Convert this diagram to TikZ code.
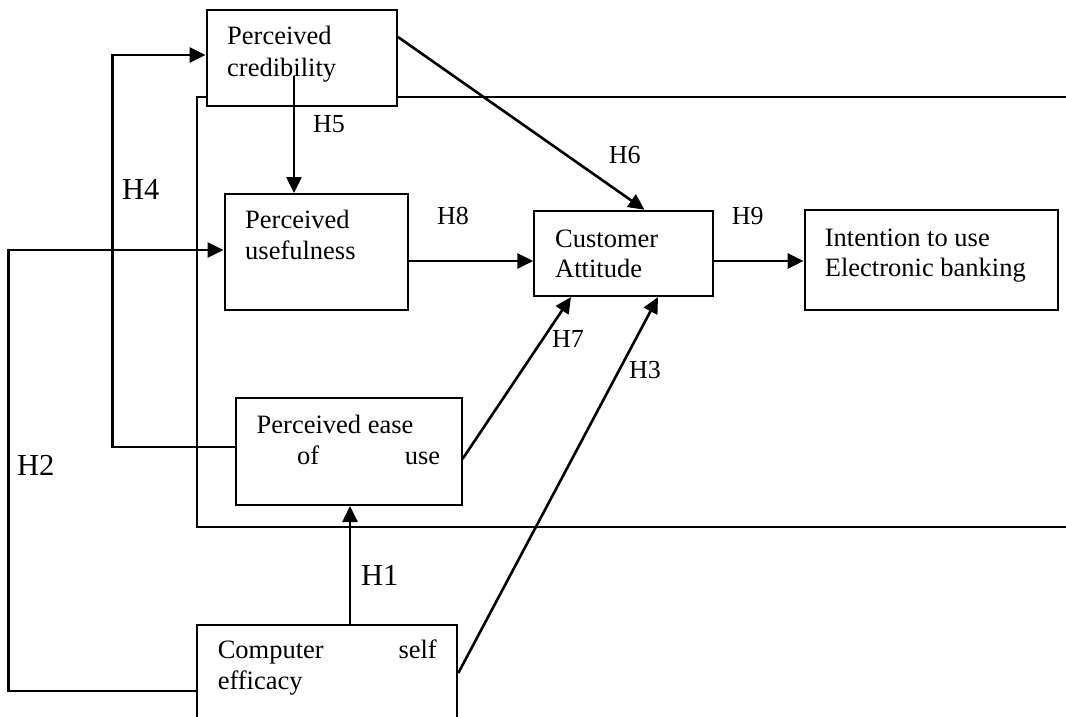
\documentclass[tikz,border=0pt]{standalone}
\usepackage{fontspec}
\setmainfont{Liberation Serif}
\usetikzlibrary{arrows.meta}
\begin{document}
\begin{tikzpicture}[x=1pt,y=-1pt,
  box/.style={draw, line width=2pt, fill=white, inner sep=0pt, rectangle},
  txt/.style={inner sep=0pt, anchor=base west, font=\fontsize{26.5}{31.5}\selectfont},
  hlab/.style={inner sep=0pt, anchor=base west, font=\fontsize{26}{30}\selectfont},
  hbig/.style={inner sep=0pt, anchor=base west, font=\fontsize{30.5}{35}\selectfont},
  arr/.style={line width=2.6pt, -{Triangle[length=16pt,width=15pt]}},
  frameline/.style={line width=1.7pt}]
\useasboundingbox (0,0) rectangle (1066,717);
\clip (0,0) rectangle (1066,717);
% open frame
\draw[frameline] (1070,97) -- (197,97) -- (197,527) -- (1070,527);
% boxes
\node[box, minimum width=190.4pt, minimum height=96pt] (cred) at (301.8,58) {};
\node[box, minimum width=183pt, minimum height=116pt] (useful) at (316,252) {};
\node[box, minimum width=178.5pt, minimum height=85.3pt] (ca) at (623.6,253.4) {};
\node[box, minimum width=253.5pt, minimum height=100pt] (intent) at (931.3,260) {};
\node[box, minimum width=226pt, minimum height=107pt] (ease) at (348.5,451.5) {};
\node[box, minimum width=260pt, minimum height=135pt] (cse) at (327.3,692.5) {};
% box texts
\node[txt] (credt1) at (227,45) {Perceived};
\node[txt] (credt2) at (227,77) {credibility};
\node[txt] (usefult1) at (245,228) {Perceived};
\node[txt] (usefult2) at (245,259) {usefulness};
\node[txt] (cat1) at (555,247) {Customer};
\node[txt] (cat2) at (555,277) {Attitude};
\node[txt] (intentt1) at (824.7,246) {Intention to use};
\node[txt] (intentt2) at (824.7,276) {Electronic banking};
\node[txt] (easet1) at (256.5,433) {Perceived ease};
\node[txt] (easet2) at (297,464) {\makebox[143pt][l]{of\hfill use}};
\node[txt] (cset1) at (217.6,658) {\makebox[219pt][l]{Computer\hfill self}};
\node[txt] (cset2) at (217.6,689) {efficacy};
% connector helpers
\coordinate (h4c) at (112.6,300);
\coordinate (h2c) at (8.6,470);
\coordinate (h5s) at (294,76);
% connectors
\draw[arr] ([yshift=4.5pt]ease.west) -| (h4c) |- ([yshift=3pt]cred.west);
\draw[arr] ([yshift=1.5pt]cse.west) -| (h2c) |- ([yshift=2pt]useful.west);
\draw[arr] (h5s) -- (useful.north -| h5s);
\draw[arr] ([yshift=21pt]cred.east) -- ([xshift=20.9pt]ca.north);
\draw[arr] ([yshift=-9pt]useful.east) coordinate (h8s) -- (ca.west |- h8s);
\draw[arr] ([yshift=-7.6pt]ca.east) coordinate (h9s) -- (intent.west |- h9s);
\draw[arr] ([yshift=-7.5pt]ease.east) -- ([xshift=-52.6pt]ca.south);
\draw[arr] ([yshift=19.5pt]cse.east) -- ([xshift=34.4pt]ca.south);
\draw[arr] ([xshift=22.7pt]cse.north) coordinate (h1s) -- (ease.south -| h1s);
% labels
\node[hlab] (lh5) at (313,132) {H5};
\node[hbig] (lh4) at (122,199) {H4};
\node[hlab] (lh8) at (437,224) {H8};
\node[hlab] (lh6) at (608.6,163) {H6};
\node[hlab] (lh9) at (731.7,224) {H9};
\node[hlab] (lh7) at (552,347) {H7};
\node[hlab] (lh3) at (629,378) {H3};
\node[hbig] (lh2) at (17,475) {H2};
\node[hbig] (lh1) at (361,585) {H1};
\end{tikzpicture}
\end{document}
